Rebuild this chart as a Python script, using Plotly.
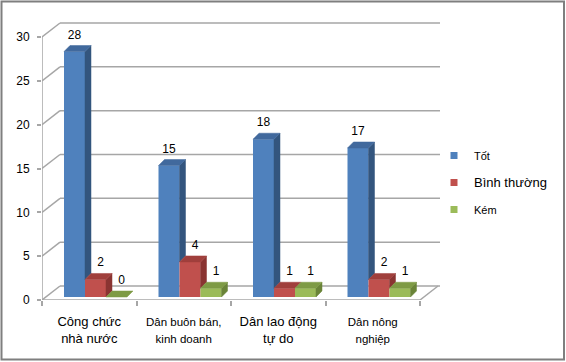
import plotly.graph_objects as go

# ---------------- data ----------------
categories = ["Công chức<br>nhà nước", "Dân buôn bán,<br>kinh doanh",
              "Dân lao động<br>tự do", "Dân nông<br>nghiệp"]
series_names = ["Tốt", "Bình thường", "Kém"]
tot = [28, 15, 18, 17]
binh_thuong = [2, 4, 1, 2]
kem = [0, 1, 1, 1]
y_ticks = [0, 5, 10, 15, 20, 25, 30]

# ---------------- styling ----------------
cat_font_sizes = [13, 11.5, 13, 11.5]
legend_font_sizes = [11, 13, 11]
front_colors = ["#4F81BD", "#C0504D", "#9BBB59"]
top_colors = ["#41699D", "#A03F3C", "#7E9B45"]
side_colors = ["#33557E", "#8A3432", "#6A8438"]
label_dx_px = [0, 5, 5]
FONT = "Liberation Sans, Arial, sans-serif"

W, H = 566, 362
L, R, T, B = 42, 126, 22, 62
pw, ph = W - L - R, H - T - B
PX_X = 94.5            # px per category unit
PX_Y = 263 / 30        # px per value unit
xmax = pw / PX_X
ymax = ph / PX_Y


def ux(p):
    return p / PX_X


def uy(p):
    return p / PX_Y


bar_w = ux(21)
group_off = ux(22)
bdx, bdy = ux(6), uy(6)      # bar depth
base = uy(3)                 # bar sits slightly behind floor front edge
DX, DY = ux(18), uy(14)      # wall depth
lab_gap = uy(4)
ncat = len(categories)

series = [tot, binh_thuong, kem]
fig = go.Figure()

# front faces (bars)
for k, vals in enumerate(series):
    centers = [i + group_off + k * bar_w + bar_w / 2 for i in range(ncat)]
    fig.add_trace(go.Bar(x=centers, y=vals, base=base, width=bar_w,
                         marker=dict(color=front_colors[k], line=dict(width=0)),
                         showlegend=False, hoverinfo="skip"))

# side and top faces
for k, vals in enumerate(series):
    sx, sy, tx, ty = [], [], [], []
    for i, v in enumerate(vals):
        x0 = i + group_off + k * bar_w
        x1 = x0 + bar_w
        t = base + v
        nxt = base + series[k + 1][i] if k + 1 < len(series) else base
        sb = max(base, nxt)
        if t > sb:
            sx += [x1, x1 + bdx, x1 + bdx, x1, x1, None]
            sy += [sb, sb + bdy, t + bdy, t, sb, None]
        tx += [x0, x0 + bdx, x1 + bdx, x1, x0, None]
        ty += [t, t + bdy, t + bdy, t, t, None]
    fig.add_trace(go.Scatter(x=sx, y=sy, mode="lines", fill="toself",
                             fillcolor=side_colors[k],
                             line=dict(color=side_colors[k], width=0.5),
                             showlegend=False, hoverinfo="skip"))
    fig.add_trace(go.Scatter(x=tx, y=ty, mode="lines", fill="toself",
                             fillcolor=top_colors[k],
                             line=dict(color=top_colors[k], width=0.5),
                             showlegend=False, hoverinfo="skip"))

# data labels
for k, vals in enumerate(series):
    lx = [i + group_off + k * bar_w + bar_w / 2 + ux(label_dx_px[k]) for i in range(ncat)]
    ly = [base + v + bdy + lab_gap for v in vals]
    fig.add_trace(go.Scatter(x=lx, y=ly, mode="text", text=[str(v) for v in vals],
                             textposition="top center",
                             textfont=dict(family=FONT, size=12, color="#000000"),
                             showlegend=False, hoverinfo="skip"))

# legend entries
for k, name in enumerate(series_names):
    fig.add_trace(go.Scatter(x=[None], y=[None], mode="markers",
                             marker=dict(symbol="square", size=7, color=front_colors[k]),
                             name=f'<span style="font-size:{legend_font_sizes[k]}px">{name}</span>',
                             legendgroup=f"g{k}", showlegend=True))

# walls / gridlines as shapes below the traces
grid_col = "#A6A6A6"
shapes = []
for v in y_ticks:
    shapes.append(dict(type="line", x0=0, y0=v, x1=DX, y1=v + DY, xref="x", yref="y",
                       line=dict(color=grid_col, width=1.5), layer="below"))
    shapes.append(dict(type="line", x0=DX, y0=v + DY, x1=xmax, y1=v + DY, xref="x", yref="y",
                       line=dict(color=grid_col, width=1.5), layer="below"))
shapes.append(dict(type="line", x0=0, y0=0, x1=0, y1=max(y_ticks), xref="x", yref="y",
                   line=dict(color=grid_col, width=1.5), layer="below"))
shapes.append(dict(type="line", x0=0, y0=0, x1=ncat, y1=0, xref="x", yref="y",
                   line=dict(color=grid_col, width=1.5), layer="below"))
shapes.append(dict(type="line", x0=ncat, y0=0, x1=ncat + DX, y1=DY, xref="x", yref="y",
                   line=dict(color=grid_col, width=1.5), layer="below"))
# chart border
shapes.append(dict(type="rect", xref="paper", yref="paper",
                   x0=(1.5 - L) / pw, x1=(W - 2 - L) / pw,
                   y0=(H - B - (H - 2.5)) / ph, y1=(H - B - 1.5) / ph,
                   line=dict(color="#7F7F7F", width=2), fillcolor="rgba(0,0,0,0)"))

ticktext = [f'<span style="font-size:{s}px">{c}</span>' for c, s in zip(categories, cat_font_sizes)]

fig.update_layout(
    width=W, height=H, margin=dict(l=L, r=R, t=T, b=B, autoexpand=False),
    paper_bgcolor="white", plot_bgcolor="white",
    barmode="overlay", shapes=shapes,
    font=dict(family=FONT, size=12, color="#000000"),
    xaxis=dict(range=[0, xmax], tickvals=[i + 0.5 for i in range(ncat)], ticktext=ticktext,
               ticks="", showgrid=False, zeroline=False, showline=False,
               ticklabelstandoff=12,
               tickfont=dict(family=FONT, size=13, color="#000000"),
               minor=dict(tickvals=list(range(ncat + 1)), ticks="outside", ticklen=5,
                          tickcolor=grid_col, tickwidth=1.5, showgrid=False),
               fixedrange=True),
    yaxis=dict(range=[0, ymax], tickvals=y_ticks, ticks="outside", ticklen=4,
               tickcolor=grid_col, tickwidth=1.5, showgrid=False, zeroline=False,
               showline=False, ticklabelstandoff=5,
               tickfont=dict(family=FONT, size=12, color="#000000"), fixedrange=True),
    legend=dict(xref="container", yref="container", x=434 / W, y=1 - 141 / H,
                xanchor="left", yanchor="top", tracegroupgap=8,
                font=dict(family=FONT, size=11, color="#000000"),
                bgcolor="rgba(0,0,0,0)"),
)

fig.write_html("out.html", config={"displayModeBar": False},
               post_script="document.body.style.margin='0';document.body.style.overflow='hidden';")
